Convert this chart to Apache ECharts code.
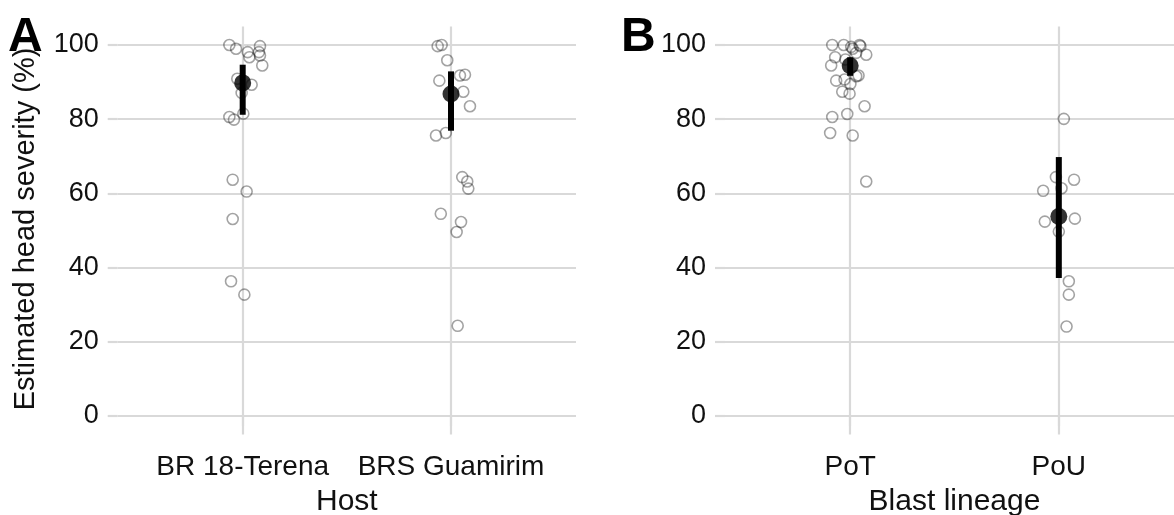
<!DOCTYPE html>
<html>
<head>
<meta charset="utf-8">
<script src="https://cdn.jsdelivr.net/npm/echarts@6/dist/echarts.min.js"></script>
<style>
  html, body { margin: 0; padding: 0; background: #fff; }
  #chart { width: 1174px; height: 515px; }
</style>
</head>
<body>
<div id="chart"></div>
<script>
// ---------- Data ----------
const hostCategories = ['BR 18-Terena', 'BRS Guamirim'];
const lineageCategories = ['PoT', 'PoU'];
const yTicks = [0, 20, 40, 60, 80, 100];

// Panel A: jittered observations (x = category position incl. jitter)
const terenaX = [0.936, 0.968, 1.024, 1.083, 1.078, 1.032, 1.083, 1.094, 0.974, 1.043, 0.995, 0.936, 0.958, 1.003, 0.952, 1.019, 0.952, 0.944, 1.008];
const terenaY = [100, 99.0, 98.1, 99.7, 98.1, 96.7, 97.2, 94.5, 90.9, 89.3, 87.1, 80.6, 79.9, 81.5, 63.7, 60.5, 53.1, 36.3, 32.7];
const guamirimX = [1.936, 1.955, 1.982, 1.944, 2.043, 2.067, 2.059, 2.091, 1.928, 1.975, 2.054, 2.078, 2.083, 1.951, 2.048, 2.027, 2.032];
const guamirimY = [99.7, 100, 95.9, 90.4, 91.8, 92.0, 87.4, 83.5, 75.6, 76.3, 64.4, 63.2, 61.3, 54.5, 52.3, 49.6, 24.3];

// Panel B: jittered observations
const potX = [0.914, 0.969, 1.005, 1.012, 1.045, 1.049, 1.029, 1.077, 0.928, 0.909, 0.977, 1.040, 1.029, 0.933, 0.973, 1.001, 0.962, 0.997, 1.069, 0.914, 0.986, 0.904, 1.012, 1.077];
const potY = [100, 100, 99.5, 99.0, 100, 99.7, 97.9, 97.4, 96.7, 94.5, 96.1, 91.8, 91.6, 90.4, 90.7, 89.5, 87.4, 86.9, 83.5, 80.6, 81.4, 76.3, 75.6, 63.2];
const pouX = [2.024, 1.986, 2.073, 2.013, 1.925, 1.933, 2.077, 2.000, 2.048, 2.048, 2.037];
const pouY = [80.1, 64.4, 63.7, 61.4, 60.7, 52.4, 53.2, 49.7, 36.3, 32.7, 24.1];

// Estimates with intervals
const hostMean = [89.8, 86.8];
const hostLow = [81.2, 76.9];
const hostHigh = [94.7, 92.9];
const lineageMean = [94.4, 53.8];
const lineageLow = [91.7, 37.2];
const lineageHigh = [96.7, 69.8];

// ---------- Build ----------
const FONT = "'Liberation Sans', Arial, sans-serif";
const GRID_COLOR = '#d9d9d9';
const GRID_W = 2.2;

function zip(xs, ys) { return xs.map((x, i) => [x, ys[i]]); }
function estData(mean) { return mean.map((m, i) => [i + 1, m]); }
function barData(lo, hi) { return lo.map((l, i) => [i + 1, l, hi[i]]); }

function xAxis(gridIndex, cats, name) {
  return {
    type: 'value', gridIndex, min: 0.4, max: 2.6,
    name, nameLocation: 'middle', nameGap: 52,
    nameTextStyle: { fontFamily: FONT, fontSize: 30, color: '#111' },
    axisLine: { show: false },
    axisTick: { show: true, length: 10, customValues: [1, 2], lineStyle: { color: GRID_COLOR, width: GRID_W } },
    axisLabel: { customValues: [1, 2], margin: 19, fontFamily: FONT, fontSize: 28, color: '#111',
      formatter: v => cats[Math.round(v) - 1] },
    splitLine: { show: true, lineStyle: { color: GRID_COLOR, width: GRID_W } }
  };
}
function yAxis(gridIndex) {
  return {
    type: 'value', gridIndex, min: -5, max: 105,
    axisLine: { show: false },
    axisTick: { show: true, length: 10, customValues: yTicks, lineStyle: { color: GRID_COLOR, width: GRID_W } },
    axisLabel: { customValues: yTicks, margin: 19, fontFamily: FONT, fontSize: 27, color: '#111' },
    splitLine: { show: true, lineStyle: { color: GRID_COLOR, width: GRID_W } }
  };
}

const openCircle = {
  type: 'scatter', symbol: 'circle', symbolSize: 11, z: 5,
  itemStyle: { color: 'rgba(0,0,0,0)', borderColor: 'rgba(0,0,0,0.45)', borderWidth: 1.6 },
  emphasis: { disabled: true }, silent: true
};
function jitter(xi, yi, x, y) {
  return Object.assign({}, openCircle, { xAxisIndex: xi, yAxisIndex: yi, data: zip(x, y) });
}
function errBar(idx, lo, hi) {
  return {
    type: 'custom', xAxisIndex: idx, yAxisIndex: idx, z: 3, silent: true,
    data: barData(lo, hi),
    encode: { x: 0, y: [1, 2] },
    renderItem: (params, api) => {
      const p1 = api.coord([api.value(0), api.value(1)]);
      const p2 = api.coord([api.value(0), api.value(2)]);
      return { type: 'line', shape: { x1: p1[0], y1: p1[1], x2: p2[0], y2: p2[1] },
        style: { stroke: '#000', lineWidth: 6 } };
    }
  };
}
function est(idx, mean) {
  return { type: 'scatter', xAxisIndex: idx, yAxisIndex: idx, z: 4, silent: true,
    symbol: 'circle', symbolSize: 17, itemStyle: { color: '#000' }, data: estData(mean) };
}

const option = {
  animation: false,
  backgroundColor: '#fff',
  grid: [
    { left: 117.7, right: 598, top: 26.5, bottom: 80.5, containLabel: false, outerBoundsMode: 'none' },
    { left: 725, right: -10, top: 26.5, bottom: 80.5, containLabel: false, outerBoundsMode: 'none' }
  ],
  xAxis: [xAxis(0, hostCategories, 'Host'), xAxis(1, lineageCategories, 'Blast lineage')],
  yAxis: [yAxis(0), yAxis(1)],
  series: [
    errBar(0, hostLow, hostHigh),
    est(0, hostMean),
    jitter(0, 0, terenaX, terenaY),
    jitter(0, 0, guamirimX, guamirimY),
    errBar(1, lineageLow, lineageHigh),
    est(1, lineageMean),
    jitter(1, 1, potX, potY),
    jitter(1, 1, pouX, pouY)
  ],
  graphic: [
    { type: 'text', x: 26, y: 229, rotation: Math.PI / 2,
      style: { text: 'Estimated head severity (%)', font: '29px ' + FONT, fill: '#111',
        align: 'center', verticalAlign: 'middle' } },
    { type: 'text', left: 8, top: 14, style: { text: 'A', font: 'bold 48px ' + FONT, fill: '#000' } },
    { type: 'text', left: 621, top: 14, style: { text: 'B', font: 'bold 48px ' + FONT, fill: '#000' } }
  ]
};

const chart = echarts.init(document.getElementById('chart'), null, { renderer: 'canvas' });
chart.setOption(option);
</script>
</body>
</html>
